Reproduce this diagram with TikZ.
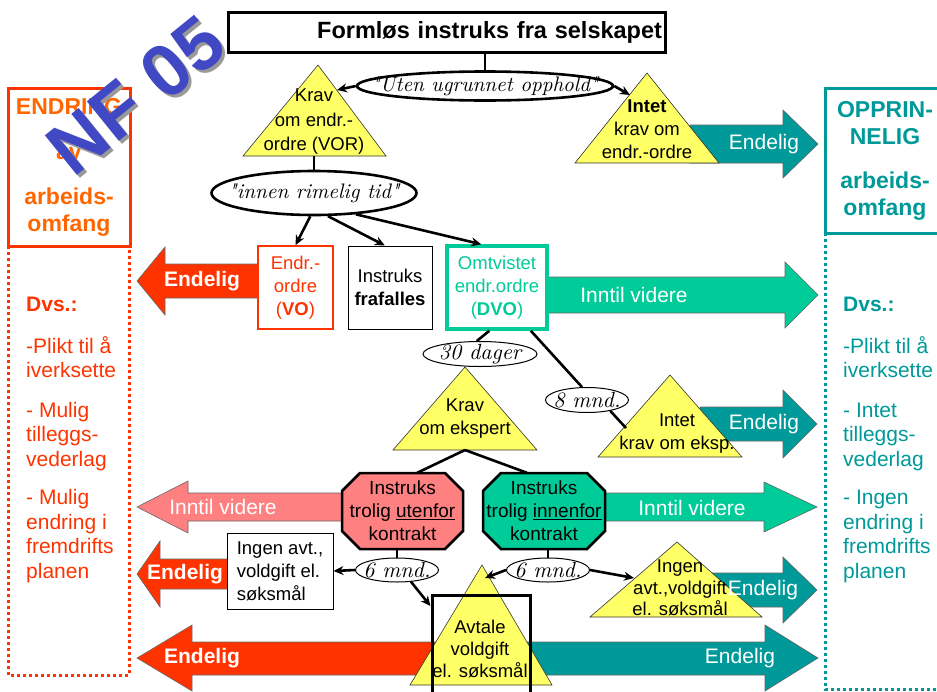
\documentclass[tikz,border=0pt]{standalone}
\usepackage{fontspec}
\setmainfont{Liberation Sans}
\newfontfamily\handfont{lmroman10-italic.otf}
\usetikzlibrary{positioning,shapes.geometric,arrows.meta}
\definecolor{endred}{RGB}{255,51,0}
\definecolor{endorange}{RGB}{255,102,0}
\definecolor{oppteal}{RGB}{0,153,153}
\definecolor{dvogreen}{RGB}{0,204,153}
\definecolor{utensalmon}{RGB}{255,128,128}
\definecolor{kravyellow}{RGB}{255,255,102}
\definecolor{nfblue}{RGB}{64,72,196}

\begin{document}
\begin{tikzpicture}[x=1pt,y=-1pt,
    txt/.style={font=\fontsize{18.5}{23}\selectfont,align=center},
    box/.style={draw,fill=white,line width=1pt,inner sep=2pt,txt},
    krav/.style={draw=black!80,fill=kravyellow,line width=0.6pt},
    kontrakt/.style={draw,line width=2.5pt,line join=miter},
    kontrakttxt/.style={font=\fontsize{19}{23}\selectfont,align=center,inner sep=0pt,minimum width=121pt,minimum height=76pt},
    hand/.style={ellipse,draw,fill=white,inner sep=0pt,line width=1pt},
    handtxt/.style={font=\handfont\fontsize{21}{22}\selectfont},
    smallhand/.style={font=\handfont\fontsize{22}{22}\selectfont},
    bigarrow/.style={draw=black!60,line width=0.6pt},
    boldlbl/.style={text=white,font=\fontsize{21}{24}\selectfont\bfseries},
    plainlbl/.style={text=white,font=\fontsize{21}{24}\selectfont},
    conn/.style={line width=2.6pt,-{Stealth[length=10pt,width=9pt]}},
    link/.style={line width=2.6pt},
    sidebox/.style={line width=3pt},
    sidedots/.style={line width=3pt,dash pattern=on 3pt off 3pt},
    sidehead/.style={font=\fontsize{23}{27}\selectfont\bfseries,align=center},
    sidetxt/.style={font=\fontsize{21}{24.5}\selectfont,align=left,anchor=north west,inner sep=0pt}
  ]
    \useasboundingbox (0,0) rectangle (937,691);

    % Left side: endring
    \draw[sidebox,endred] (8,88) rectangle (130,246);
    \draw[sidedots,endred] (8,246) -- (8,675) -- (129,675) -- (129,246);
    \node[sidehead,text=endorange] (endring) at (69,167) {ENDRING\\[18pt]av\\[18pt]arbeids-\\omfang};
    \node[sidetxt,text=endred] (dvsleft) at (26,297) {\textbf{Dvs.:}\\[17pt]-Plikt til å\\iverksette\\[15pt]- Mulig\\tilleggs-\\vederlag\\[14pt]- Mulig\\endring i\\fremdrifts\\planen};

    % Right side: opprinnelig
    \draw[sidebox,oppteal] (945,88) -- (825,88) -- (825,233) -- (945,233);
    \draw[sidedots,oppteal] (825,233) -- (825,689) -- (945,689);
    \node[sidehead,text=oppteal] (opprin) at (885,161) {OPPRIN-\\NELIG\\[17pt]arbeids-\\omfang};
    \node[sidetxt,text=oppteal] (dvsright) at (843,297) {\textbf{Dvs.:}\\[17pt]-Plikt til å\\iverksette\\[15pt]- Intet\\tilleggs-\\vederlag\\[14pt]- Ingen\\endring i\\fremdrifts\\planen};

    % Block arrows
    \draw[bigarrow,fill=oppteal] (690,125) -- (783,125) -- (783,110) -- (818,144) -- (783,178) -- (783,163) -- (690,163) -- cycle;
    \draw[bigarrow,fill=endred] (258,264) -- (165,264) -- (165,247) -- (137,281) -- (165,315) -- (165,298) -- (258,298) -- cycle;
    \draw[bigarrow,fill=dvogreen] (547,277) -- (785,277) -- (785,262) -- (818,295) -- (785,328) -- (785,313) -- (547,313) -- cycle;
    \draw[bigarrow,fill=oppteal] (700,407) -- (783,407) -- (783,390) -- (817,424) -- (783,458) -- (783,441) -- (700,441) -- cycle;
    \draw[bigarrow,fill=utensalmon] (342,493) -- (188,493) -- (188,481) -- (137,507) -- (188,533) -- (188,521) -- (342,521) -- cycle;
    \draw[bigarrow,fill=dvogreen] (605,493) -- (764,493) -- (764,482) -- (817,507) -- (764,532) -- (764,521) -- (605,521) -- cycle;
    \draw[bigarrow,fill=endred] (228,559) -- (160,559) -- (160,541) -- (137,574) -- (160,607) -- (160,589) -- (228,589) -- cycle;
    \draw[bigarrow,fill=oppteal] (700,573) -- (783,573) -- (783,557) -- (817,590) -- (783,623) -- (783,607) -- (700,607) -- cycle;
    \draw[bigarrow,fill=endred] (440,642) -- (192,642) -- (192,625) -- (137,658) -- (192,691) -- (192,675) -- (440,675) -- cycle;
    \draw[bigarrow,fill=oppteal] (525,642) -- (765,642) -- (765,625) -- (818,658) -- (765,691) -- (765,675) -- (525,675) -- cycle;

    % Krav triangles
    \draw[krav] (318,65) -- (386,156) -- (243,156) -- cycle;
    \node[txt,font=\fontsize{18.5}{24.5}\selectfont] (vor) at (314,122) {Krav\\om endr.-\\ordre (VOR)};
    \draw[krav] (647,73) -- (719,163) -- (575,163) -- cycle;
    \node[txt] (intet) at (647,129) {\textbf{Intet}\\krav om\\endr.-ordre};
    \draw[krav] (465,367) -- (537,450) -- (393,450) -- cycle;
    \node[txt] (ekspert) at (465,419) {Krav\\om ekspert};
    \draw[krav] (670,375) -- (742,457) -- (598,457) -- cycle;
    \node[txt] (intetek) at (677,434) {Intet\\krav om eksp.};
    \draw[krav] (677,542) -- (762,617) -- (590,617) -- cycle;
    \node[txt,font=\fontsize{18.5}{21.5}\selectfont] (ingentri) at (680,588) {Ingen\\avt.,voldgift\\el. søksmål};
    \draw[krav] (482,565) -- (552,685) -- (410,685) -- cycle;
    \node[txt,font=\fontsize{18.5}{22}\selectfont] (avtale) at (480,649) {Avtale\\voldgift\\el. søksmål};

    % Arrow labels
    \node[plainlbl] (lbl1) at (764,144) {Endelig};
    \node[boldlbl] (lbl2) at (202,281) {Endelig};
    \node[plainlbl] (lbl3) at (634,295) {Inntil videre};
    \node[plainlbl] (lbl4) at (764,424) {Endelig};
    \node[plainlbl] (lbl5) at (223,507) {Inntil videre};
    \node[plainlbl] (lbl6) at (692,508) {Inntil videre};
    \node[boldlbl] (lbl7) at (185,574) {Endelig};
    \node[plainlbl] (lbl8) at (763,590) {Endelig};
    \node[boldlbl] (lbl9) at (202,658) {Endelig};
    \node[plainlbl] (lbl10) at (740,658) {Endelig};

    % Title and boxes
    \node[draw,fill=white,line width=3pt,inner sep=3pt,text width=431pt,align=right,minimum height=40pt,font=\fontsize{23.5}{26}\selectfont\bfseries] (title) at (446.5,32) {Formløs instruks fra selskapet};
    \node[box,draw=endred,line width=1.6pt,text=endred,minimum width=75pt,minimum height=83pt] (vo) at (295.5,287.5) {Endr.-\\ordre\\(\textbf{VO})};
    \node[box,minimum width=84pt,minimum height=83pt] (fraf) at (390,287.5) {Instruks\\\textbf{frafalles}};
    \node[box,draw=dvogreen,line width=3.5pt,text=dvogreen,minimum width=100pt,minimum height=83pt] (dvo) at (497,287.5) {Omtvistet\\endr.ordre\\(\textbf{DVO})};
    \node[box,align=left,minimum width=106pt,minimum height=76pt] (ingen) at (280,571) {Ingen avt.,\\voldgift el.\\søksmål};

    % Kontrakt octagons
    \draw[kontrakt,fill=utensalmon] (360,473) -- (445,473) -- (463,491) -- (463,531) -- (445,549) -- (360,549) -- (342,531) -- (342,491) -- cycle;
    \node[kontrakttxt] (utenfor) at (402.5,511) {Instruks\\trolig \underline{utenfor}\\kontrakt};
    \draw[kontrakt,fill=dvogreen] (501,473) -- (587,473) -- (605,491) -- (605,531) -- (587,549) -- (501,549) -- (483,531) -- (483,491) -- cycle;
    \node[kontrakttxt] (innenfor) at (544,511) {Instruks\\trolig \underline{innenfor}\\kontrakt};

    % Time limits
    \node[hand,line width=2.6pt,minimum width=256pt,minimum height=29pt,label={[handtxt]center:{"Uten ugrunnet opphold"}}] (opphold) at (485,86) {};
    \node[hand,line width=2.6pt,minimum width=205pt,minimum height=44pt,label={[handtxt]center:{"innen rimelig tid"}}] (rimelig) at (314,193) {};
    \node[hand,minimum width=114pt,minimum height=25pt,label={[smallhand]center:{30 dager}}] (dager30) at (480,354) {};
    \node[hand,minimum width=83pt,minimum height=25pt,label={[smallhand]center:{8 mnd.}}] (mnd8) at (587,400) {};
    \node[hand,minimum width=83pt,minimum height=24pt,label={[smallhand]center:{6 mnd.}}] (mnd6a) at (397,570) {};
    \node[hand,minimum width=83pt,minimum height=24pt,label={[smallhand]center:{6 mnd.}}] (mnd6b) at (548,570) {};

    % Ends of connectors on triangles
    \coordinate (vortip) at (337,90);
    \coordinate (intettip) at (630,95);
    \coordinate (vorbase) at (318,156);
    \coordinate (eksptouch) at (626,428);
    \coordinate (ekspbase) at (465,450);
    \coordinate (avttip) at (485,578);
    \coordinate (ingentip) at (634,578);

    % Connectors
    \draw[link] (opphold.north) -- (opphold.north |- title.south);
    \draw[conn] (opphold.west) -- (vortip);
    \draw[conn] (opphold.east) -- (intettip);
    \draw[link] (rimelig.north) -- (rimelig.north |- vorbase);
    \draw[conn] (rimelig.-99) -- (vo.north);
    \draw[conn] (rimelig.-59) -- (fraf.97);
    \draw[conn] (rimelig.-27) -- (dvo.110);
    \draw[link] (dvo.-100) -- (dager30.104);
    \draw[link] (dvo.-52) -- (mnd8.111);
    \draw[link] (mnd8.-25) -- (eksptouch);
    \draw[link] (ekspbase) -- (utenfor.69);
    \draw[link] (ekspbase) -- (innenfor.114);
    \draw[link] (mnd6a.north) -- (mnd6a.north |- utenfor.south);
    \draw[link] (mnd6b.north) -- (mnd6b.north |- innenfor.south);
    \draw[conn] (mnd6a.west) -- (ingen.east);
    \draw[conn] (mnd6b.west) -- (avttip);
    \draw[conn] (mnd6b.east) -- (ingentip);

    % Avtale frame
    \node[draw,line width=3pt,minimum width=98pt,minimum height=110pt] (avtbox) at (481,650) {};
    \draw[conn] (mnd6a.-40) -- (avtbox.139);

    % NF 05 stamp
    \node[rotate=39,text=black!40,font=\fontsize{74}{74}\selectfont\bfseries] (nfshadow) at (139,98) {NF 05};
    \node[rotate=39,text=nfblue,font=\fontsize{74}{74}\selectfont\bfseries] (nf) at (136,95) {NF 05};
\end{tikzpicture}
\end{document}
